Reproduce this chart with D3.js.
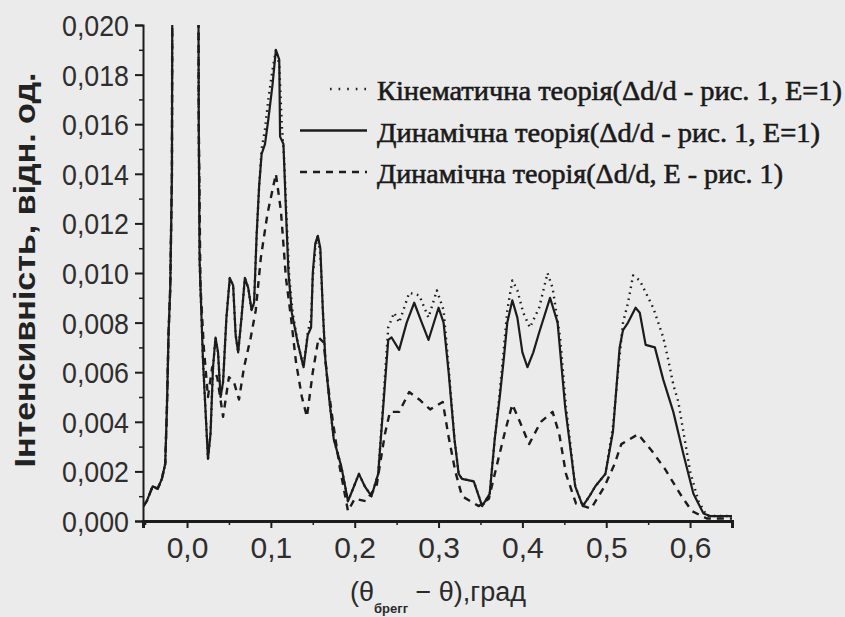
<!DOCTYPE html>
<html>
<head>
<meta charset="utf-8">
<script src="https://cdn.jsdelivr.net/npm/d3@7"></script>
<style>
    body { margin: 0; background: #ebebeb; }
    svg { display: block; }
</style>
</head>
<body>
<svg width="845" height="617"></svg>
<script>
// intensity curves, values: [angle, intensity]
var dynamicE1 = [
    [-0.052, 0.0006], [-0.048, 0.0008], [-0.041, 0.0014], [-0.035, 0.0013], [-0.030, 0.0017],
    [-0.026, 0.0023], [-0.024, 0.0045], [-0.022, 0.0076], [-0.020, 0.0094], [-0.018, 0.014],
    [-0.017, 0.03], [0.0, 0.05], [0.013, 0.03], [0.014, 0.016], [0.015, 0.0105], [0.017, 0.0085],
    [0.019, 0.0065], [0.022, 0.0045], [0.025, 0.0025], [0.028, 0.0035], [0.031, 0.0062],
    [0.034, 0.0074], [0.037, 0.0068], [0.040, 0.0050], [0.043, 0.0056], [0.047, 0.0082],
    [0.051, 0.0098], [0.055, 0.0095], [0.058, 0.0075], [0.061, 0.0068], [0.065, 0.0082],
    [0.069, 0.0098], [0.073, 0.0094], [0.077, 0.0085], [0.080, 0.0088], [0.083, 0.0115],
    [0.086, 0.0135], [0.089, 0.0148], [0.093, 0.0152], [0.097, 0.0162], [0.102, 0.0176],
    [0.106, 0.0190], [0.110, 0.0186], [0.111, 0.0155], [0.115, 0.0152], [0.118, 0.0125],
    [0.121, 0.0100], [0.125, 0.0084], [0.132, 0.0072], [0.139, 0.0062], [0.144, 0.0075],
    [0.148, 0.0078], [0.150, 0.0100], [0.153, 0.0112], [0.156, 0.0115], [0.159, 0.0110],
    [0.162, 0.0085], [0.165, 0.0065], [0.170, 0.0048], [0.175, 0.0033], [0.184, 0.0022],
    [0.192, 0.0008], [0.198, 0.0013], [0.205, 0.0019], [0.212, 0.0014], [0.220, 0.0010],
    [0.228, 0.0019], [0.234, 0.0046], [0.240, 0.0073], [0.244, 0.0074], [0.253, 0.0069],
    [0.262, 0.0080], [0.271, 0.0088], [0.280, 0.0080], [0.288, 0.0073], [0.300, 0.0086],
    [0.306, 0.0080], [0.312, 0.0060], [0.319, 0.0033], [0.324, 0.0019], [0.328, 0.0017],
    [0.342, 0.0016], [0.352, 0.0006], [0.361, 0.0011], [0.367, 0.0033], [0.373, 0.0050],
    [0.378, 0.0066], [0.382, 0.0080], [0.388, 0.0089], [0.394, 0.0082], [0.400, 0.0068],
    [0.406, 0.0062], [0.413, 0.0068], [0.420, 0.0076], [0.433, 0.0090], [0.442, 0.0080],
    [0.451, 0.0046], [0.463, 0.0014], [0.472, 0.0006], [0.480, 0.0010], [0.487, 0.0014],
    [0.499, 0.0019], [0.508, 0.0036], [0.516, 0.0070], [0.520, 0.0077], [0.526, 0.0080],
    [0.535, 0.0086], [0.540, 0.0084], [0.547, 0.0071], [0.558, 0.0070], [0.568, 0.0057],
    [0.580, 0.0044], [0.592, 0.0027], [0.604, 0.0011], [0.616, 0.0003], [0.624, 0.0002],
    [0.650, 0.0002]
];

var kinematic = [
    [-0.052, 0.0006], [-0.048, 0.0008], [-0.041, 0.0014], [-0.035, 0.0013], [-0.030, 0.0017],
    [-0.026, 0.0023], [-0.024, 0.0045], [-0.022, 0.0076], [-0.020, 0.0094], [-0.018, 0.014],
    [-0.017, 0.03], [0.0, 0.05], [0.013, 0.03], [0.014, 0.016], [0.015, 0.0105], [0.017, 0.0085],
    [0.019, 0.0065], [0.022, 0.0045], [0.025, 0.0025], [0.028, 0.0035], [0.031, 0.0062],
    [0.034, 0.0074], [0.037, 0.0068], [0.040, 0.0050], [0.043, 0.0056], [0.047, 0.0082],
    [0.051, 0.0098], [0.055, 0.0095], [0.058, 0.0075], [0.061, 0.0068], [0.065, 0.0082],
    [0.069, 0.0098], [0.073, 0.0094], [0.077, 0.0085], [0.080, 0.0088], [0.083, 0.0115],
    [0.086, 0.0135], [0.089, 0.0150], [0.093, 0.0158], [0.097, 0.0170], [0.102, 0.0182],
    [0.106, 0.0190], [0.110, 0.0184], [0.113, 0.0160], [0.116, 0.0145], [0.119, 0.0120],
    [0.122, 0.0098], [0.126, 0.0084], [0.132, 0.0072], [0.139, 0.0062], [0.144, 0.0076],
    [0.148, 0.0082], [0.150, 0.0098], [0.153, 0.0110], [0.156, 0.0115], [0.159, 0.0108],
    [0.162, 0.0085], [0.165, 0.0065], [0.170, 0.0048], [0.175, 0.0033], [0.184, 0.0022],
    [0.192, 0.0008], [0.198, 0.0013], [0.205, 0.0019], [0.212, 0.0014], [0.220, 0.0010],
    [0.228, 0.0019], [0.234, 0.0048], [0.240, 0.0078], [0.247, 0.0084], [0.253, 0.0080],
    [0.265, 0.0092], [0.277, 0.0091], [0.288, 0.0082], [0.298, 0.0093], [0.306, 0.0085],
    [0.312, 0.0062], [0.319, 0.0033], [0.324, 0.0019], [0.328, 0.0017], [0.342, 0.0016],
    [0.352, 0.0006], [0.361, 0.0011], [0.367, 0.0033], [0.373, 0.0052], [0.378, 0.0070],
    [0.382, 0.0085], [0.388, 0.0097], [0.394, 0.0093], [0.401, 0.0084], [0.409, 0.0078],
    [0.420, 0.0086], [0.430, 0.0100], [0.436, 0.0094], [0.445, 0.0074], [0.452, 0.0046],
    [0.463, 0.0014], [0.472, 0.0006], [0.480, 0.0010], [0.487, 0.0014], [0.499, 0.0019],
    [0.508, 0.0038], [0.514, 0.0060], [0.520, 0.0080], [0.526, 0.0088], [0.532, 0.0099],
    [0.540, 0.0097], [0.556, 0.0086], [0.568, 0.0074], [0.574, 0.0065], [0.580, 0.0055],
    [0.586, 0.0048], [0.592, 0.0036], [0.600, 0.0020], [0.610, 0.0008], [0.620, 0.0002],
    [0.650, 0.0002]
];

var dynamicE = [
    [-0.052, 0.0006], [-0.048, 0.0008], [-0.041, 0.0014], [-0.035, 0.0013], [-0.030, 0.0017],
    [-0.026, 0.0023], [-0.024, 0.0045], [-0.022, 0.0076], [-0.020, 0.0094], [-0.018, 0.014],
    [-0.017, 0.03], [0.0, 0.05], [0.013, 0.03], [0.014, 0.016], [0.016, 0.0095], [0.020, 0.0070],
    [0.025, 0.0050], [0.030, 0.0062], [0.036, 0.0058], [0.043, 0.0042], [0.050, 0.0058],
    [0.056, 0.0056], [0.062, 0.0049], [0.068, 0.0062], [0.076, 0.0074], [0.082, 0.0085],
    [0.088, 0.0106], [0.096, 0.0124], [0.101, 0.0132], [0.106, 0.0140], [0.112, 0.0125],
    [0.118, 0.0098], [0.124, 0.0082], [0.130, 0.0064], [0.137, 0.0050], [0.143, 0.0042],
    [0.150, 0.0060], [0.157, 0.0074], [0.163, 0.0072], [0.168, 0.0055], [0.174, 0.0040],
    [0.182, 0.0022], [0.192, 0.0004], [0.200, 0.0009], [0.213, 0.0008], [0.226, 0.0014],
    [0.236, 0.0035], [0.242, 0.0044], [0.253, 0.0044], [0.265, 0.0052], [0.277, 0.0049],
    [0.290, 0.0045], [0.305, 0.0048], [0.312, 0.0034], [0.320, 0.0020], [0.328, 0.0010],
    [0.348, 0.0006], [0.360, 0.0009], [0.372, 0.0026], [0.380, 0.0037], [0.388, 0.0047],
    [0.397, 0.0040], [0.408, 0.0031], [0.422, 0.0040], [0.436, 0.0044], [0.444, 0.0035],
    [0.452, 0.0019], [0.464, 0.0007], [0.482, 0.0005], [0.498, 0.0014], [0.510, 0.0023],
    [0.518, 0.0031], [0.538, 0.0035], [0.555, 0.0028], [0.570, 0.0021], [0.588, 0.0011],
    [0.602, 0.0004], [0.620, 0.0001], [0.650, 0.0001]
];

var xTicks = [0.0, 0.1, 0.2, 0.3, 0.4, 0.5, 0.6];
var xMinorTicks = [-0.05, 0.05, 0.15, 0.25, 0.35, 0.45, 0.55, 0.65];
var yTicks = [0.000, 0.002, 0.004, 0.006, 0.008, 0.010, 0.012, 0.014, 0.016, 0.018, 0.020];
var yMinorTicks = [0.001, 0.003, 0.005, 0.007, 0.009, 0.011, 0.013, 0.015, 0.017, 0.019];

var legendNames = [
    'Кінематична теорія(Δd/d - рис. 1, E=1)',
    'Динамічна теорія(Δd/d - рис. 1, E=1)',
    'Динамічна теорія(Δd/d, E - рис. 1)'
];

(function() {
    var ink = '#1c1c1c';
    var label_font = '"Liberation Sans", Arial, sans-serif';

    var svg = d3.select('svg');
    var plot_left = 143, plot_right = 732, plot_top = 25, plot_bottom = 521;

    var x = d3.scaleLinear().domain([-0.0525, 0.650]).range([plot_left, plot_right]);
    var y = d3.scaleLinear().domain([0, 0.020]).range([plot_bottom, plot_top]);

    svg.append('defs').append('clipPath').attr('id', 'plot-clip')
        .append('rect')
        .attr('x', plot_left).attr('y', plot_top)
        .attr('width', plot_right - plot_left).attr('height', plot_bottom - plot_top);

    var fmt = function(d) {
        return d3.format('.3f')(d).replace('.', ',');
    };

    // y axis
    var yAxis = svg.append('g')
        .attr('transform', 'translate(' + plot_left + ',0)')
        .call(d3.axisLeft(y).tickValues(yTicks).tickSize(8).tickPadding(6).tickFormat(fmt));
    yAxis.select('.domain').attr('stroke', ink).attr('stroke-width', 2);
    yAxis.selectAll('.tick line').attr('stroke', ink).attr('stroke-width', 2);
    yAxis.selectAll('.tick text')
        .attr('fill', '#2e2e2e')
        .attr('font-family', label_font)
        .attr('font-size', 29)
        .attr('dy', '0.36em')
        .attr('textLength', 67)
        .attr('lengthAdjust', 'spacingAndGlyphs');
    svg.append('g')
        .attr('transform', 'translate(' + plot_left + ',0)')
        .call(d3.axisLeft(y).tickValues(yMinorTicks).tickSize(4).tickFormat(''))
        .call(function(g) {
            g.select('.domain').remove();
            g.selectAll('.tick line').attr('stroke', ink).attr('stroke-width', 1.5);
        });

    // x axis
    var xAxis = svg.append('g')
        .attr('transform', 'translate(0,' + plot_bottom + ')')
        .call(d3.axisBottom(x).tickValues(xTicks).tickSize(7).tickPadding(9).tickFormat(function(d) {
            return d3.format('.1f')(d).replace('.', ',');
        }));
    xAxis.select('.domain').attr('stroke', ink).attr('stroke-width', 3);
    xAxis.selectAll('.tick line').attr('stroke', ink).attr('stroke-width', 2);
    xAxis.selectAll('.tick text')
        .attr('fill', '#2e2e2e')
        .attr('font-family', label_font)
        .attr('font-size', 30)
        .attr('dy', '0.71em');
    svg.append('g')
        .attr('transform', 'translate(0,' + plot_bottom + ')')
        .call(d3.axisBottom(x).tickValues(xMinorTicks).tickSize(4).tickFormat(''))
        .call(function(g) {
            g.select('.domain').remove();
            g.selectAll('.tick line').attr('stroke', ink).attr('stroke-width', 1.5);
        });

    // curves
    var line = d3.line()
        .x(function(d) { return x(d[0]); })
        .y(function(d) { return y(d[1]); });

    var curves = svg.append('g').attr('clip-path', 'url(#plot-clip)');
    var series = [
        {data: dynamicE1, dash: null, width: 2.2},
        {data: kinematic, dash: '1.6,4.5', width: 2.4},
        {data: dynamicE, dash: '7,6', width: 2.4}
    ];
    curves.selectAll('path')
        .data(series)
        .join('path')
        .attr('d', function(item) { return line(item.data); })
        .attr('fill', 'none')
        .attr('stroke', ink)
        .attr('stroke-width', function(item) { return item.width; })
        .attr('stroke-dasharray', function(item) { return item.dash; })
        .attr('stroke-linejoin', 'round');

    // legend
    var legendDash = ['1.6,7', null, '7,6'];
    var legendWidth = [465, 443, 406];
    var legend = svg.append('g');
    legendNames.forEach(function(name, i) {
        var ly = 89 + i * 41.5;
        legend.append('line')
            .attr('x1', i === 0 ? 330 : 300).attr('x2', 367)
            .attr('y1', ly).attr('y2', ly)
            .attr('stroke', ink)
            .attr('stroke-width', 2.4)
            .attr('stroke-dasharray', legendDash[i]);
        legend.append('text')
            .attr('x', 377)
            .attr('y', ly + 11)
            .attr('fill', '#1a1a1a')
            .attr('stroke', '#1a1a1a')
            .attr('stroke-width', 0.6)
            .attr('font-family', '"Liberation Serif", "Times New Roman", serif')
            .attr('font-size', 28)
            .attr('textLength', legendWidth[i])
            .attr('lengthAdjust', 'spacingAndGlyphs')
            .text(name);
    });

    // axis titles
    svg.append('text')
        .attr('transform', 'translate(35,270) rotate(-90)')
        .attr('text-anchor', 'middle')
        .attr('fill', '#222')
        .attr('font-family', label_font)
        .attr('font-weight', 'bold')
        .attr('font-size', 30)
        .attr('textLength', 395)
        .attr('lengthAdjust', 'spacingAndGlyphs')
        .text('Інтенсивність, відн. од.');

    var xTitle = svg.append('text')
        .attr('x', 350)
        .attr('y', 601)
        .attr('fill', '#2a2a2a')
        .attr('font-family', label_font)
        .attr('font-size', 27);
    xTitle.append('tspan').text('(θ');
    xTitle.append('tspan')
        .attr('dy', 12)
        .attr('font-size', 13)
        .attr('font-weight', 'bold')
        .text('брегг');
    xTitle.append('tspan')
        .attr('dy', -12)
        .text(' − θ),град');
})();
</script>
</body>
</html>
